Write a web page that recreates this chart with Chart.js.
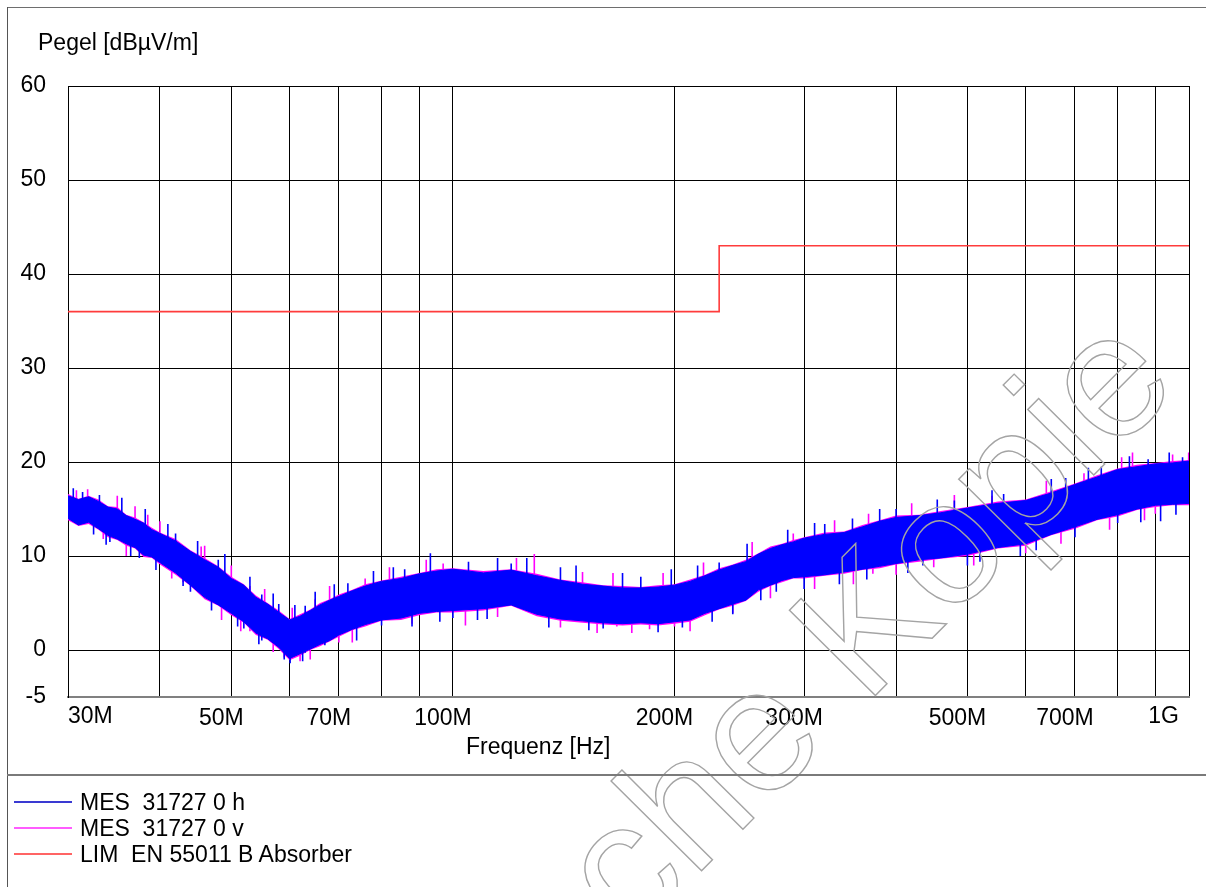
<!DOCTYPE html>
<html>
<head>
<meta charset="utf-8">
<script src="https://cdn.jsdelivr.net/npm/chart.js@4.4.1/dist/chart.umd.min.js"></script>
<style>
  html, body { margin:0; padding:0; background:#fff; }
  #wrap { position:relative; width:1206px; height:887px; overflow:hidden; font-family:"Liberation Sans", Arial, sans-serif; color:#000; }
  #c { position:absolute; left:0; top:0; }
  .txt { position:absolute; font-size:23px; line-height:23px; white-space:pre; }
  .hl { position:absolute; height:2px; }
</style>
</head>
<body>
<div id="wrap">
  <canvas id="c" width="1206" height="887"></canvas>
  <div style="position:absolute;left:7px;top:7px;width:1199px;height:1px;background:#6e6e6e"></div>
  <div style="position:absolute;left:7px;top:7px;width:1px;height:880px;background:#555"></div>
  <div style="position:absolute;left:7px;top:774px;width:1199px;height:2px;background:#7a7a7a"></div>
  <div class="txt" style="left:38px;top:31px">Pegel [dBµV/m]</div>
  <div class="txt" style="left:466px;top:735px">Frequenz [Hz]</div>
  <div id="legend"></div>
</div>
<script>
// ---------------- data ----------------
const freqMHz = [30,31,32,33,34,35,36,37,38,39,40,42,44,46,48,50,52,54,56,58,60,62,64,66,68,70,73,76,80,85,90,95,100,110,120,130,140,150,160,170,180,190,200,210,220,230,240,250,260,270,280,290,300,320,340,360,380,400,430,460,500,550,600,650,700,750,800,850,900,950,1000];

// MES 31727 0 h : upper / lower edge of the noise band (dBµV/m)
const mesH_hi = [16.4,16.0,16.3,15.8,15.2,15.0,14.3,13.9,13.5,12.8,12.4,11.6,10.5,9.6,8.8,7.6,6.9,5.6,4.9,4.0,3.2,3.6,4.2,4.8,5.3,5.7,6.3,6.8,7.3,7.6,8.1,8.4,8.6,8.2,8.5,7.9,7.4,7.0,6.8,6.6,6.6,6.7,6.9,7.3,7.9,8.5,9.0,9.4,10.2,10.8,11.2,11.5,11.9,12.3,12.5,13.1,13.7,14.1,14.3,14.6,15.1,15.6,15.9,16.7,17.6,18.4,19.2,19.5,19.8,19.9,20.1];
const mesH_lo = [14.0,13.3,13.6,12.9,12.2,11.8,11.3,10.9,10.1,9.9,9.3,8.2,6.9,5.6,4.8,3.9,3.0,1.8,1.2,0.3,-0.9,-0.4,0.1,0.6,1.0,1.6,2.2,2.7,3.2,3.4,3.9,4.1,4.2,4.4,4.8,3.8,3.3,3.1,2.9,2.8,2.9,2.8,3.0,3.2,3.9,4.4,4.9,5.3,6.4,6.9,7.4,7.7,7.8,8.0,8.3,8.6,8.9,9.2,9.6,9.8,10.2,10.9,11.3,12.3,13.1,13.9,14.4,15.0,15.4,15.5,15.6];
// MES 31727 0 v : upper / lower edge of the noise band (dBµV/m)
const mesV_hi = [16.6,16.1,16.4,16.0,15.3,15.2,14.4,14.1,13.6,13.0,12.5,11.8,10.6,9.8,8.9,7.8,7.0,5.8,5.0,4.2,3.3,3.8,4.3,5.0,5.4,5.9,6.4,7.0,7.4,7.8,8.2,8.6,8.7,8.4,8.6,8.1,7.5,7.2,6.9,6.8,6.7,6.9,7.0,7.5,8.0,8.7,9.1,9.6,10.3,11.0,11.3,11.7,12.0,12.5,12.6,13.3,13.8,14.3,14.4,14.8,15.2,15.8,16.0,16.9,17.7,18.6,19.3,19.7,19.9,20.1,20.2];
const mesV_lo = [13.8,13.2,13.4,12.8,12.0,11.7,11.1,10.8,9.9,9.8,9.1,8.0,6.8,5.4,4.7,3.7,2.9,1.6,1.1,0.1,-1.1,-0.6,0.0,0.4,0.9,1.4,2.1,2.5,3.1,3.2,3.7,4.0,4.0,4.2,4.7,3.6,3.1,2.9,2.7,2.6,2.7,2.6,2.8,3.0,3.7,4.3,4.7,5.2,6.2,6.8,7.2,7.6,7.6,7.9,8.1,8.5,8.7,9.1,9.4,9.7,10.0,10.8,11.1,12.2,12.9,13.8,14.2,14.9,15.2,15.4,15.4];

// single noise peaks sticking out of each band: [MHz, from, to]
const peaksH = [[30.5,15.5,17.2],[31.4,14.5,16.8],[32.5,12.3,14.5],[33.1,13.5,16.5],[33.8,11.2,13.5],[34.2,11.5,14.5],[35.5,14.2,16.2],[36.5,10.0,12.0],[37.5,9.8,12.5],[38.2,13.0,15.0],[39.5,8.5,10.5],[41,11.5,13.4],[42,9.0,12.4],[43,6.8,8.6],[44,6.2,9.0],[45,9.5,11.6],[47,4.2,6.0],[48,6.5,9.6],[49,7.8,10.2],[51,2.5,4.6],[52,2.3,5.0],[53,5.4,7.8],[54.5,0.6,2.5],[55,1.0,5.9],[57,3.5,6.0],[58,1.5,4.9],[59,-1.0,1.0],[60.1,-1.4,1.5],[61,2.6,4.8],[62.5,-1.2,0.5],[63,-0.3,4.7],[65,3.8,6.2],[67,0.5,3.0],[69,4.5,7.0],[72,3.5,7.1],[74,1.0,3.0],[78,6.0,8.4],[80,2.6,5.5],[83,6.6,8.8],[86,5.0,8.6],[88,2.5,4.5],[93.2,6.0,10.3],[96,3.0,5.0],[100,3.4,6.5],[105,5.5,9.4],[108,3.2,5.3],[111.3,3.3,6.0],[115,7.5,9.8],[120,6.0,9.2],[126,6.0,9.8],[135,2.4,4.5],[140,6.5,8.8],[147,5.0,9.0],[153,2.1,4.0],[160,2.3,4.5],[170,5.8,8.2],[180,4.5,7.8],[190,1.9,3.8],[198,6.0,8.6],[205,2.4,5.0],[215,6.5,9.0],[225,3.0,5.0],[230,6.0,9.3],[240,3.8,5.8],[251,7.0,11.3],[262,5.3,7.2],[275,6.2,9.0],[285,10.3,12.8],[300,6.5,8.5],[310,11.0,13.5],[320,10.0,13.4],[335,7.0,9.0],[349,10.5,14.0],[365,7.5,9.5],[380,12.7,15.0],[400,11.0,15.0],[415,8.2,10.2],[435,9.0,12.0],[455,13.5,16.0],[480,12.0,15.9],[500,9.0,11.2],[520,9.4,12.2],[540,14.6,17.0],[560,12.0,16.6],[590,10.0,12.2],[620,10.6,13.0],[650,15.8,18.2],[680,14.0,18.3],[700,12.0,14.0],[730,17.2,19.4],[760,15.5,19.5],[800,13.5,16.0],[830,18.5,20.6],[860,13.6,15.8],[880,16.5,20.3],[915,13.7,17.0],[940,19.0,21.0],[960,14.4,16.4],[980,16.5,20.5]];
const peaksV = [[30.8,15.8,17.0],[31.9,14.5,17.1],[33.5,11.8,13.5],[35,14.5,16.4],[36,10.0,12.7],[37,13.5,15.3],[38.5,11.0,14.4],[40,10.5,13.7],[41.5,7.6,9.4],[43,7.2,10.0],[45.5,9.2,11.0],[46,7.0,11.1],[48.5,3.2,5.0],[50,6.8,9.0],[51.5,2.0,4.0],[53,2.0,6.8],[55.5,4.2,6.5],[57,-0.2,2.5],[59,-0.8,2.0],[60.5,2.5,4.5],[62,-1.2,1.5],[64,-1.0,1.0],[65,2.0,5.4],[68,4.6,6.8],[70,0.8,3.0],[73,0.8,2.8],[76,4.0,7.6],[82,6.5,8.8],[88,2.8,5.0],[92,7.5,9.6],[97,5.5,9.2],[104,2.6,4.6],[115,3.5,6.0],[122,7.8,9.8],[129,6.0,10.2],[140,2.4,4.5],[150,6.3,8.3],[157,1.8,3.8],[165,4.5,8.2],[167,2.5,4.5],[175,1.8,3.8],[185,2.2,4.2],[193,6.0,8.2],[200,2.5,4.5],[210,2.0,4.0],[219,5.5,9.3],[240,3.9,6.0],[255,8.8,11.5],[270,5.5,7.5],[290,9.0,12.4],[310,6.5,8.5],[330,11.5,13.8],[350,7.0,9.0],[367,10.5,14.5],[372,8.1,10.0],[400,8.0,10.0],[420,13.4,15.6],[450,8.8,11.0],[480,14.0,16.5],[510,9.0,11.0],[540,13.0,16.4],[600,10.3,12.5],[640,15.8,18.0],[670,11.3,13.3],[720,15.0,18.8],[780,12.8,15.0],[810,18.5,20.5],[838,17.0,21.0],[870,13.8,15.8],[900,14.5,16.5],[950,19.0,20.8],[999,17.5,21.0]];

const limitFreqMHz = [30,230,230,1000];
const limitVal = [36,36,43,43];

const xTickValuesMHz = [30,40,50,60,70,80,90,100,200,300,400,500,600,700,800,900,1000];
const xTickLabels = {30:'30M',50:'50M',70:'70M',100:'100M',200:'200M',300:'300M',500:'500M',700:'700M',1000:'1G'};
const yTickValues = [-5,0,10,20,30,40,50,60];

const seriesNames = ['MES  31727 0 h','MES  31727 0 v','LIM  EN 55011 B Absorber'];
const seriesColors = ['#0000ff','#ff00ff','#ff3c3c'];
const legendLineColors = ['#3a3ad2','#ff5cff','#ff6464'];

// ---------------- legend (HTML) ----------------
const lg = document.getElementById('legend');
seriesNames.forEach((n,i)=>{
  const y = 801 + i*26;
  const l = document.createElement('div');
  l.className='hl'; l.style.left='14px'; l.style.top=y+'px'; l.style.width='58px'; l.style.background=legendLineColors[i];
  lg.appendChild(l);
  const t = document.createElement('div');
  t.className='txt'; t.style.left='80px'; t.style.top=(y-10)+'px'; t.textContent=n;
  lg.appendChild(t);
});

// ---------------- chart ----------------
const pts = (f,v)=>f.map((m,i)=>({x:m*1e6,y:v[i]}));
const peakPts = list=>{ const o=[]; list.forEach(([m,a,b])=>{ o.push({x:m*1e6,y:a},{x:m*1e6,y:b},{x:m*1e6,y:null}); }); return o; };
const FONT = '"Liberation Sans", Arial, sans-serif';

const edgeLabels = {
  id:'edgeLabels',
  afterDraw(chart){
    const xs = chart.scales.x, ctx = chart.ctx;
    ctx.save();
    ctx.font = '23px ' + FONT;
    ctx.fillStyle = '#000';
    ctx.textBaseline = 'alphabetic';
    const yb = xs.top + 26;
    ctx.textAlign = 'left';
    ctx.fillText(xTickLabels[30], xs.getPixelForValue(30e6), yb);
    ctx.textAlign = 'right';
    ctx.fillText(xTickLabels[1000], xs.getPixelForValue(1000e6) - 10, yb);
    ctx.restore();
  }
};

const watermark = {
  id:'watermark',
  afterDraw(chart){
    const ctx = chart.ctx;
    ctx.save();
    ctx.translate(1182, 386);
    ctx.rotate(-0.79);
    ctx.font = '176px ' + FONT;
    ctx.textAlign = 'right';
    ctx.textBaseline = 'alphabetic';
    ctx.strokeStyle = '#a4a4a4';
    ctx.lineWidth = 1.4;
    ctx.strokeText('Technische Kopie', 0, 0);
    ctx.restore();
  }
};

const band = (label, data, color, fill, bw)=>({label, data, borderColor:color, backgroundColor:color, borderWidth:bw, pointRadius:0, fill});
const peaks = (label, data, color)=>({label, data, borderColor:color, borderWidth:1.6, pointRadius:0, fill:false, spanGaps:false});

new Chart(document.getElementById('c'), {
  type:'line',
  data:{
    datasets:[
      peaks(seriesNames[0]+' peaks', peakPts(peaksH), seriesColors[0]),
      band(seriesNames[0]+' hi', pts(freqMHz,mesH_hi), seriesColors[0], false, 1),
      band(seriesNames[0]+' lo', pts(freqMHz,mesH_lo), seriesColors[0], '-1', 1),
      peaks(seriesNames[1]+' peaks', peakPts(peaksV), seriesColors[1]),
      band(seriesNames[1]+' hi', pts(freqMHz,mesV_hi), seriesColors[1], false, 0),
      band(seriesNames[1]+' lo', pts(freqMHz,mesV_lo), seriesColors[1], '-1', 0),
      {label:seriesNames[2], data:pts(limitFreqMHz,limitVal), borderColor:seriesColors[2], borderWidth:1.6, pointRadius:0, fill:false}
    ]
  },
  options:{
    responsive:false,
    animation:false,
    events:[],
    layout:{ padding:{left:0,right:17,top:86,bottom:130}, autoPadding:false },
    plugins:{ legend:{display:false}, tooltip:{enabled:false}, filler:{drawTime:'beforeDatasetDraw'} },
    scales:{
      x:{
        type:'logarithmic',
        min:30e6, max:1000e6,
        afterBuildTicks(s){ s.ticks = xTickValuesMHz.map(m=>({value:m*1e6})); },
        afterFit(s){ s.height = 60; },
        grid:{ color:'#000', lineWidth:1, drawTicks:false },
        border:{ color:'#808080', width:2 },
        ticks:{
          autoSkip:false, maxRotation:0, minRotation:0, padding:8, labelOffset:-10,
          color:'#000', font:{family:FONT, size:23},
          callback(v){ const m=Math.round(v/1e6); if(m===30||m===1000) return ''; return xTickLabels[m]||''; }
        }
      },
      y:{
        min:-5, max:60,
        afterBuildTicks(s){ s.ticks = yTickValues.map(v=>({value:v})); },
        afterFit(s){ s.width = 68; },
        grid:{ color:'#000', lineWidth:1, drawTicks:false },
        border:{ color:'#000', width:1 },
        ticks:{ padding:22, color:'#000', font:{family:FONT, size:23}, callback(v){ return String(v); } }
      }
    }
  },
  plugins:[edgeLabels, watermark]
});
</script>
</body>
</html>
